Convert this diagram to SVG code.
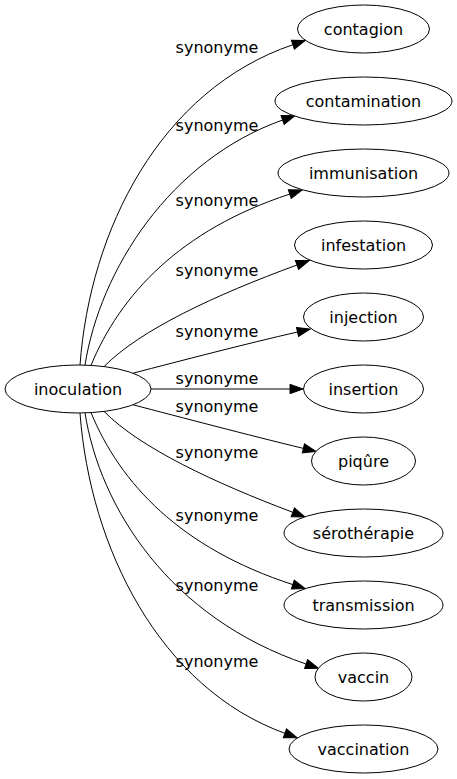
<svg xmlns="http://www.w3.org/2000/svg" width="457" height="779" viewBox="0 0 457 779">
<style>
.node ellipse{fill:#fff;stroke:#000;stroke-width:1}
text{font-family:"DejaVu Sans",Verdana,sans-serif;font-size:16px;fill:#000;text-anchor:middle}
.edge path{fill:none;stroke:#000;stroke-width:1;marker-end:url(#arr)}
</style>
<defs>
<marker id="arr" markerUnits="userSpaceOnUse" markerWidth="14" markerHeight="10" refX="0" refY="4.67" orient="auto" overflow="visible">
<path d="M0,0 L13,4.67 L0,9.33 z" fill="#000" stroke="#000" stroke-width="1"/>
</marker>
</defs>
<rect width="457" height="779" fill="#fff"/>
<g id="edges" class="edge">
<path d="M80,365 C90,230 160,90 292.9,44.7"/>
<path d="M85,365.1 C100,270 170,160 282.6,120"/>
<path d="M91,365.4 C120,295 180,230 289.8,194.1"/>
<path d="M104,366.6 C140,330 215,295 297,265"/>
<path d="M133,373.2 C180,361 245,344 297.5,332"/>
<path d="M151,389 L290,389"/>
<path d="M133,404.8 C180,417 248,435 303.4,448.4"/>
<path d="M104,411.4 C140,448 215,483 292.8,512.3"/>
<path d="M91,412.6 C120,483 180,548 292.8,584.6"/>
<path d="M85,412.9 C100,508 170,618 306.1,664"/>
<path d="M80,413 C90,548 160,688 284.9,733.3"/>
</g>
<g id="edge-labels">
<text x="217" y="53">synonyme</text>
<text x="217" y="131">synonyme</text>
<text x="217" y="206">synonyme</text>
<text x="217" y="276">synonyme</text>
<text x="217" y="337">synonyme</text>
<text x="217" y="384">synonyme</text>
<text x="217" y="412">synonyme</text>
<text x="217" y="458">synonyme</text>
<text x="217" y="521">synonyme</text>
<text x="217" y="591">synonyme</text>
<text x="217" y="667">synonyme</text>
</g>
<g id="inoculation" class="node"><ellipse cx="78" cy="389" rx="73" ry="24"/><text x="78" y="394.5">inoculation</text></g>
<g id="contagion" class="node"><ellipse cx="363.5" cy="29" rx="66" ry="24"/><text x="363.5" y="34.5">contagion</text></g>
<g id="contamination" class="node"><ellipse cx="363.5" cy="101" rx="88.5" ry="24"/><text x="363.5" y="106.5">contamination</text></g>
<g id="immunisation" class="node"><ellipse cx="363.5" cy="173" rx="85.5" ry="24"/><text x="363.5" y="178.5">immunisation</text></g>
<g id="infestation" class="node"><ellipse cx="363.5" cy="245" rx="69" ry="24"/><text x="363.5" y="250.5">infestation</text></g>
<g id="injection" class="node"><ellipse cx="363.5" cy="317" rx="60" ry="24"/><text x="363.5" y="322.5">injection</text></g>
<g id="insertion" class="node"><ellipse cx="363.5" cy="389" rx="60" ry="24"/><text x="363.5" y="394.5">insertion</text></g>
<g id="piqure" class="node"><ellipse cx="363.5" cy="461" rx="52" ry="24"/><text x="363.5" y="466.5">piqûre</text></g>
<g id="serotherapie" class="node"><ellipse cx="363.5" cy="533" rx="79.5" ry="24"/><text x="363.5" y="538.5">sérothérapie</text></g>
<g id="transmission" class="node"><ellipse cx="363.5" cy="605" rx="79.5" ry="24"/><text x="363.5" y="610.5">transmission</text></g>
<g id="vaccin" class="node"><ellipse cx="363.5" cy="677" rx="48.5" ry="24"/><text x="363.5" y="682.5">vaccin</text></g>
<g id="vaccination" class="node"><ellipse cx="363.5" cy="749" rx="74.5" ry="24"/><text x="363.5" y="754.5">vaccination</text></g>
</svg>
